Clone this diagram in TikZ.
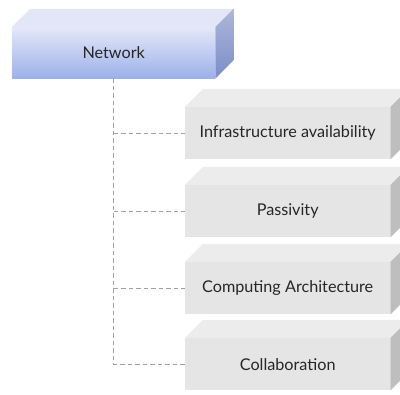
\documentclass[tikz,border=0pt]{standalone}
\usepackage{fontspec}
\setmainfont{Lato}
\definecolor{netTop}{HTML}{E4E8F8}
\definecolor{netBot}{HTML}{9CB0EA}
\definecolor{netLid}{HTML}{E2E6F6}
\definecolor{netSideTop}{HTML}{AEB7DA}
\definecolor{netSideBot}{HTML}{7C8DC6}
\definecolor{itemFront}{HTML}{E5E5E5}
\definecolor{itemLid}{HTML}{ECECEC}
\definecolor{itemSide}{HTML}{BEBEBE}
\definecolor{linkgray}{HTML}{A0A0A0}
\begin{document}
\begin{tikzpicture}[x=1pt,y=-1pt,
  netface/.style={rectangle, anchor=north west, minimum width=203pt, minimum height=51pt,
    inner sep=0pt, top color=netTop, bottom color=netBot, text=black!85,
    font=\fontsize{16.2}{19}\selectfont},
  itemface/.style={rectangle, anchor=north west, minimum width=205pt, minimum height=52pt,
    inner sep=0pt, fill=itemFront, text=black!85, font=\fontsize{16.2}{19}\selectfont},
  link/.style={draw=linkgray, dash pattern=on 4.5pt off 3pt, line width=1pt}]
\useasboundingbox (0,0) rectangle (400,395);

% top box with its lid and right side
\node[netface] (net) at (12,27) {Network};
\fill[netLid] (net.north west) -- ++(18,-18) -- ([shift={(18,-18)}]net.north east) -- (net.north east) -- cycle;
\shade[top color=netSideTop, bottom color=netSideBot] (net.north east) -- ++(18,-18)
  -- ([shift={(18,-18)}]net.south east) -- (net.south east) -- cycle;

% the four grey blocks
\foreach \name/\ypos/\label in {i1/107/Infrastructure availability, i2/185/Passivity,
    i3/262/Computing Architecture, i4/338/Collaboration}{
  \node[itemface] (\name) at (185,\ypos) {\label};
  \fill[itemLid] (\name.north west) -- ++(18,-18) -- ([shift={(18,-18)}]\name.north east)
    -- (\name.north east) -- cycle;
  \fill[itemSide] (\name.north east) -- ++(18,-18) -- ([shift={(18,-18)}]\name.south east)
    -- (\name.south east) -- cycle;
}

% dashed tree connectors
\draw[link] (net.south) -- (net.south |- i4.west) -- (i4.west);
\draw[link] (net.south |- i1.west) -- (i1.west);
\draw[link] (net.south |- i2.west) -- (i2.west);
\draw[link] (net.south |- i3.west) -- (i3.west);
\end{tikzpicture}
\end{document}
